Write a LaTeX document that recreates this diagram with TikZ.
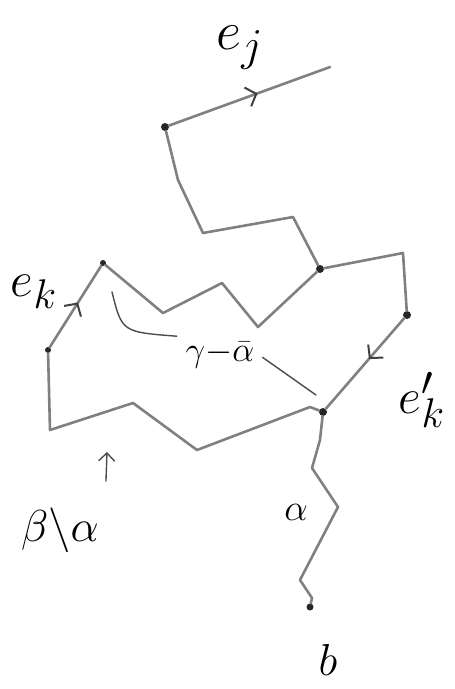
\documentclass[tikz,border=0pt]{standalone}
\usetikzlibrary{decorations.markings,arrows.meta}
\begin{document}
\begin{tikzpicture}[
    x=1pt,y=-1pt,
    >={Straight Barb[length=9pt,width=20pt,line width=2pt]},
    every node/.style={font=\Huge},
    pencil/.style={draw=black!50, line width=2.6pt, line join=round, line cap=round},
    pointer/.style={draw=black!70, line width=1.4pt, line cap=round},
    vtx/.style={circle, fill=black!85, inner sep=0pt, minimum size=8pt},
    midarrow/.style={postaction={decorate}, decoration={markings,
        mark=at position #1 with {\arrow[black!75]{>}}}},
    midarrow/.default=0.5
]
    \useasboundingbox (0,0) rectangle (455,689);

    % vertices
    \node[vtx] (vA) at (165,127) {};
    \node[vtx] (vB) at (320,269) {};
    \node[vtx] (vC) at (407,315) {};
    \node[vtx] (vD) at (323,412) {};
    \node[vtx, minimum size=6pt] (vE) at (103,263) {};
    \node[vtx, minimum size=6pt] (vF) at (48,350) {};
    \node[vtx, minimum size=7pt] (vb) at (310,607) {};
    \coordinate (jEnd) at (330,67);

    % edges
    \draw[pencil, midarrow=0.55] (vA) -- (jEnd);
    \draw[pencil] (vA) -- (178,180) -- (203,233) -- (293,217) -- (vB);
    \draw[pencil] (vB) -- (403,253) -- (vC);
    \draw[pencil, midarrow=0.45] (vC) -- (vD);
    \draw[pencil] (vB) -- (258,327) -- (222,283) -- (163,313) -- (vE);
    \draw[pencil, midarrow=0.55] (vF) -- (vE);
    \draw[pencil] (vF) -- (50,430) -- (133,403) -- (197,450) -- (310,407) -- (vD);
    \draw[pencil] (vD) -- (320,440) -- (312,468) -- (338,507) -- (300,580) -- (312,598) -- (vb);

    % labels
    \node[scale=2.2] (lblJ) at (240,48) {$e_j$};
    \node[scale=2] (lblK) at (34,292) {$e_k$};
    \node[scale=2] (lblKp) at (422,400) {$e'_k$};
    \node[scale=1.4] (lblGA) at (220,355) {$\gamma{-}\bar\alpha$};
    \node[scale=1.5] (lblA) at (296,512) {$\alpha$};
    \node[scale=1.8] (lblBA) at (60,530) {$\beta{\setminus}\alpha$};
    \node[scale=1.8] (lblb) at (328,660) {$b$};

    % pointers
    \coordinate (gTop) at (112,292);
    \coordinate (gBot) at (316,395);
    \coordinate (baTip) at (107,452);
    \draw[pointer, shorten <=4pt] (lblGA.north west) .. controls (122,332) .. (gTop);
    \draw[pointer, shorten <=4pt] (lblGA.east) -- (gBot);
    \draw[pointer, shorten <=20pt, -{Straight Barb[length=8pt,width=16pt]}] (lblBA.north east) -- (baTip);
\end{tikzpicture}
\end{document}
